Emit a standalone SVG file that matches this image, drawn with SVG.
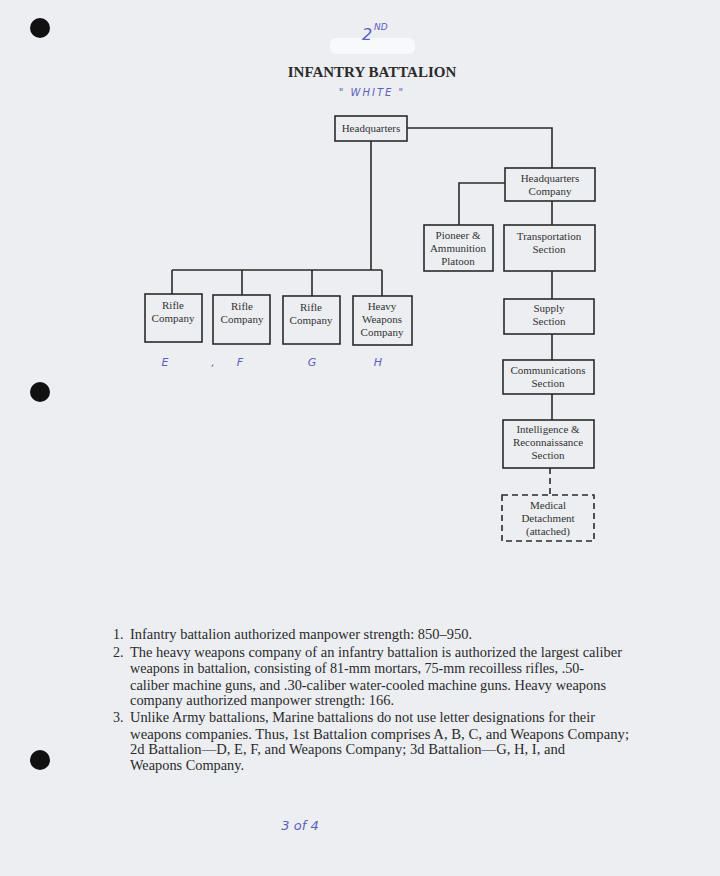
<svg xmlns="http://www.w3.org/2000/svg" width="720" height="876" viewBox="0 0 720 876">
<style>
.box{fill:none;stroke:#2a2a2a;stroke-width:1.6}
.dash{fill:none;stroke:#2a2a2a;stroke-width:1.6;stroke-dasharray:6,4}
.ln{fill:none;stroke:#2a2a2a;stroke-width:1.6}
.t{font-family:"Liberation Serif",serif;font-size:11px;fill:#333;text-anchor:middle}
.body{font-family:"Liberation Serif",serif;font-size:14px;fill:#2a2a2a}
.hand{font-family:"DejaVu Sans",sans-serif;fill:#5a5fc0;font-style:italic}
</style>
<rect x="0" y="0" width="720" height="876" fill="#eceef2"/>
<circle cx="40" cy="28" r="10" fill="#111"/>
<circle cx="40" cy="392" r="10" fill="#111"/>
<circle cx="40" cy="760" r="10" fill="#111"/>
<rect x="330" y="38" width="85" height="16" rx="6" fill="#f8f9fb"/>
<text class="hand" x="362" y="40" font-size="16">2</text>
<text class="hand" x="374" y="30" font-size="9">ND</text>
<text x="372" y="77" font-family="Liberation Serif,serif" font-size="15" font-weight="bold" fill="#2a2a2a" text-anchor="middle">INFANTRY BATTALION</text>
<text class="hand" x="372" y="96" font-size="10" text-anchor="middle" letter-spacing="2">" WHITE "</text>
<g id="connectors">
<path class="ln" d="M407,128 H552 V168"/>
<path class="ln" d="M371,141 V270 M172,270 H382 M172,270 V294 M242,270 V295 M312,270 V296 M382,270 V296"/>
<path class="ln" d="M505,183 H459 V225"/>
<path class="ln" d="M552,201 V225 M552,271 V299 M552,334 V360 M552,394 V420"/>
<path class="dash" d="M550,468 V495"/>
</g>
<g id="hq"><rect class="box" x="335" y="116" width="72" height="25"/><text class="t" x="371" y="132">Headquarters</text></g>
<g id="hqco"><rect class="box" x="505" y="168" width="90" height="33"/><text class="t" x="550" y="182">Headquarters</text><text class="t" x="550" y="195">Company</text></g>
<g id="pioneer"><rect class="box" x="424" y="225" width="69" height="46"/><text class="t" x="458" y="239">Pioneer &amp;</text><text class="t" x="458" y="252">Ammunition</text><text class="t" x="458" y="265">Platoon</text></g>
<g id="transport"><rect class="box" x="504" y="225" width="91" height="46"/><text class="t" x="549" y="240">Transportation</text><text class="t" x="549" y="253">Section</text></g>
<g id="supply"><rect class="box" x="504" y="299" width="90" height="35"/><text class="t" x="549" y="312">Supply</text><text class="t" x="549" y="325">Section</text></g>
<g id="comm"><rect class="box" x="503" y="360" width="91" height="34"/><text class="t" x="548" y="374">Communications</text><text class="t" x="548" y="387">Section</text></g>
<g id="intel"><rect class="box" x="503" y="420" width="91" height="48"/><text class="t" x="548" y="433">Intelligence &amp;</text><text class="t" x="548" y="446">Reconnaissance</text><text class="t" x="548" y="459">Section</text></g>
<g id="medical"><rect class="dash" x="502" y="495" width="92" height="46"/><text class="t" x="548" y="509">Medical</text><text class="t" x="548" y="522">Detachment</text><text class="t" x="548" y="535">(attached)</text></g>
<g id="rifle1"><rect class="box" x="145" y="294" width="57" height="48"/><text class="t" x="173" y="309">Rifle</text><text class="t" x="173" y="322">Company</text></g>
<g id="rifle2"><rect class="box" x="213" y="295" width="57" height="49"/><text class="t" x="242" y="310">Rifle</text><text class="t" x="242" y="323">Company</text></g>
<g id="rifle3"><rect class="box" x="283" y="296" width="57" height="48"/><text class="t" x="311" y="311">Rifle</text><text class="t" x="311" y="324">Company</text></g>
<g id="heavy"><rect class="box" x="353" y="296" width="59" height="49"/><text class="t" x="382" y="310">Heavy</text><text class="t" x="382" y="323">Weapons</text><text class="t" x="382" y="336">Company</text></g>
<g font-size="11">
<text class="hand" x="165" y="366" text-anchor="middle">E</text>
<text class="hand" x="213" y="366" text-anchor="middle">,</text>
<text class="hand" x="240" y="366" text-anchor="middle">F</text>
<text class="hand" x="312" y="366" text-anchor="middle">G</text>
<text class="hand" x="378" y="366" text-anchor="middle">H</text>
</g>
<g class="body">
<text x="113" y="639">1.</text><text x="130" y="639" textLength="342" lengthAdjust="spacingAndGlyphs">Infantry battalion authorized manpower strength: 850–950.</text>
<text x="113" y="657">2.</text><text x="130" y="657" textLength="492" lengthAdjust="spacingAndGlyphs">The heavy weapons company of an infantry battalion is authorized the largest caliber</text>
<text x="130" y="673" textLength="454" lengthAdjust="spacingAndGlyphs">weapons in battalion, consisting of 81-mm mortars, 75-mm recoilless rifles, .50-</text>
<text x="130" y="690" textLength="476" lengthAdjust="spacingAndGlyphs">caliber machine guns, and .30-caliber water-cooled machine guns. Heavy weapons</text>
<text x="130" y="705" textLength="264" lengthAdjust="spacingAndGlyphs">company authorized manpower strength: 166.</text>
<text x="113" y="722">3.</text><text x="130" y="722" textLength="465" lengthAdjust="spacingAndGlyphs">Unlike Army battalions, Marine battalions do not use letter designations for their</text>
<text x="130" y="739" textLength="499" lengthAdjust="spacingAndGlyphs">weapons companies. Thus, 1st Battalion comprises A, B, C, and Weapons Company;</text>
<text x="130" y="754" textLength="435" lengthAdjust="spacingAndGlyphs">2d Battalion—D, E, F, and Weapons Company; 3d Battalion—G, H, I, and</text>
<text x="130" y="770" textLength="114" lengthAdjust="spacingAndGlyphs">Weapons Company.</text>
</g>
<text class="hand" x="300" y="830" font-size="13" text-anchor="middle">3 of 4</text>
</svg>
